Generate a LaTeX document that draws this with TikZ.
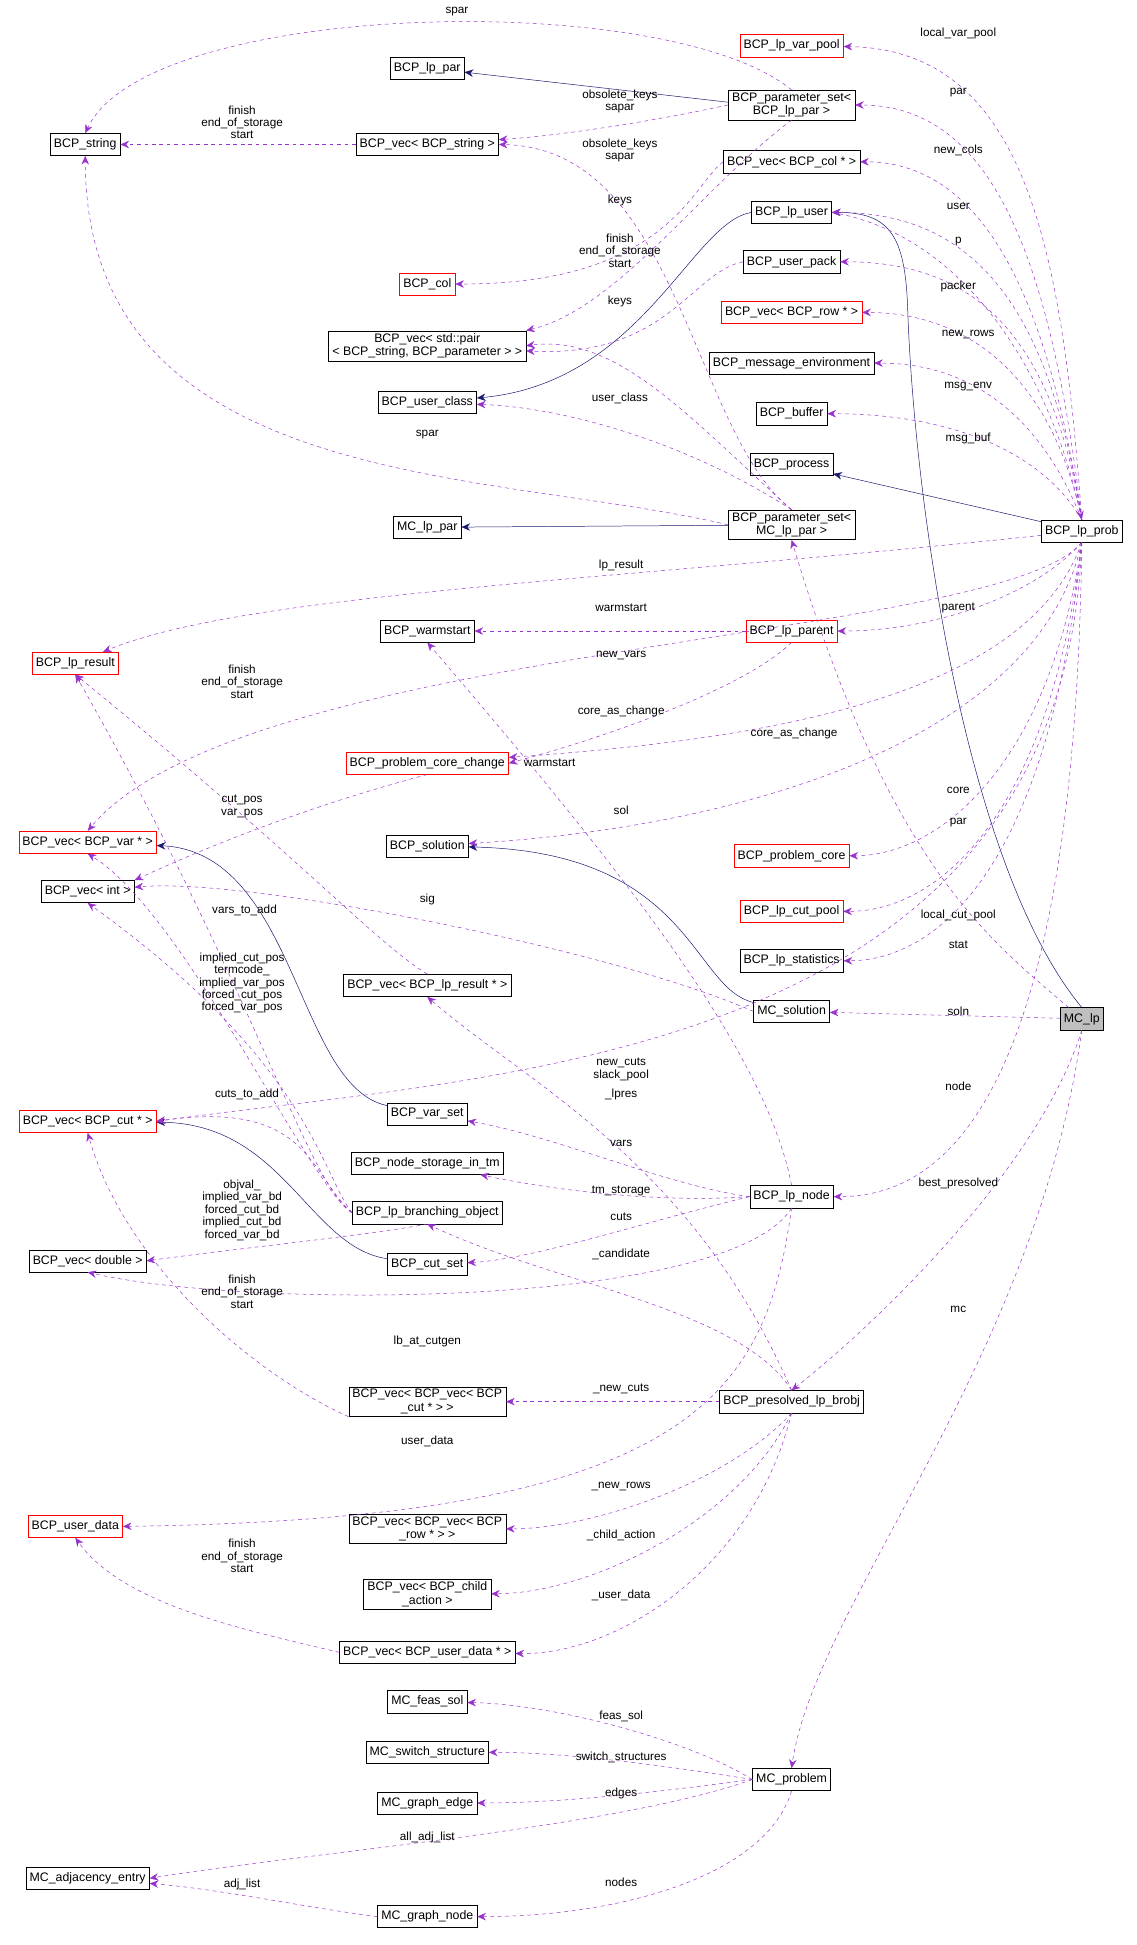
\documentclass[tikz,border=0pt]{standalone}
\usepackage{fontspec}
\setmainfont{Liberation Sans}
\usetikzlibrary{arrows.meta}
\begin{document}
\begin{tikzpicture}[x=1pt,y=-1pt,
 cls/.style={draw=black,fill=white,font=\fontsize{10}{11}\selectfont,inner xsep=3pt,inner ysep=2pt,minimum height=18pt,align=center},
 rcls/.style={cls,draw=red},
 dep/.style={draw={rgb,255:red,153;green,50;blue,204},dashed,-{Stealth[length=7pt,width=6pt]}},
 inh/.style={draw={rgb,255:red,25;green,25;blue,112},-{Stealth[length=7pt,width=6pt]}},
 lb/.style={font=\fontsize{9.5}{10}\selectfont,align=center,inner sep=0pt}]
\useasboundingbox (0,0) rectangle (920,1575);
\node[cls] (str) at (69,117) {BCP\_string};
\node[cls] (lppar) at (346,55) {BCP\_lp\_par};
\node[cls] (vstr) at (346,117) {BCP\_vec< BCP\_string >};
\node[rcls] (col) at (346,230) {BCP\_col};
\node[cls] (vpair) at (346,280) {BCP\_vec< std::pair\\< BCP\_string, BCP\_parameter > >};
\node[cls] (ucls) at (346,326) {BCP\_user\_class};
\node[cls] (mcpar) at (346,427) {MC\_lp\_par};
\node[cls] (warm) at (346,511) {BCP\_warmstart};
\node[rcls] (lpres) at (61,537) {BCP\_lp\_result};
\node[rcls] (pcc) at (346,618) {BCP\_problem\_core\_change};
\node[rcls] (vvar) at (71,682) {BCP\_vec< BCP\_var * >};
\node[cls] (sol) at (346,685) {BCP\_solution};
\node[cls] (vint) at (71,722) {BCP\_vec< int >};
\node[cls] (vlpres) at (346,798) {BCP\_vec< BCP\_lp\_result * >};
\node[rcls] (vcut) at (71,908) {BCP\_vec< BCP\_cut * >};
\node[cls] (varset) at (346,902) {BCP\_var\_set};
\node[cls] (nst) at (346,942) {BCP\_node\_storage\_in\_tm};
\node[cls] (bobj) at (346,982) {BCP\_lp\_branching\_object};
\node[cls] (vdbl) at (71,1021) {BCP\_vec< double >};
\node[cls] (cutset) at (346,1024) {BCP\_cut\_set};
\node[cls] (vvcut) at (346,1135) {BCP\_vec< BCP\_vec< BCP\\\_cut * > >};
\node[rcls] (udata) at (61,1236) {BCP\_user\_data};
\node[cls] (vvrow) at (346,1238) {BCP\_vec< BCP\_vec< BCP\\\_row * > >};
\node[cls] (vchild) at (346,1291) {BCP\_vec< BCP\_child\\\_action >};
\node[cls] (vudata) at (346,1338) {BCP\_vec< BCP\_user\_data * >};
\node[cls] (feas) at (346,1378) {MC\_feas\_sol};
\node[cls] (sw) at (346,1419) {MC\_switch\_structure};
\node[cls] (gedge) at (346,1460) {MC\_graph\_edge};
\node[cls] (adj) at (71,1521) {MC\_adjacency\_entry};
\node[cls] (gnode) at (346,1552) {MC\_graph\_node};
\node[rcls] (vpool) at (641,37) {BCP\_lp\_var\_pool};
\node[cls] (psbcp) at (641,85) {BCP\_parameter\_set<\\BCP\_lp\_par >};
\node[cls] (vcol) at (641,131) {BCP\_vec< BCP\_col * >};
\node[cls] (lpuser) at (641,172) {BCP\_lp\_user};
\node[cls] (upack) at (641,212) {BCP\_user\_pack};
\node[rcls] (vrow) at (641,253) {BCP\_vec< BCP\_row * >};
\node[cls] (menv) at (641,294) {BCP\_message\_environment};
\node[cls] (buf) at (641,335) {BCP\_buffer};
\node[cls] (proc) at (641,376) {BCP\_process};
\node[cls] (psmc) at (641,425) {BCP\_parameter\_set<\\MC\_lp\_par >};
\node[rcls] (parent) at (641,511) {BCP\_lp\_parent};
\node[rcls] (pcore) at (641,693) {BCP\_problem\_core};
\node[rcls] (cpool) at (641,738) {BCP\_lp\_cut\_pool};
\node[cls] (stat) at (641,778) {BCP\_lp\_statistics};
\node[cls] (mcsol) at (641,819) {MC\_solution};
\node[cls] (node) at (641,969) {BCP\_lp\_node};
\node[cls] (pres) at (641,1135) {BCP\_presolved\_lp\_brobj};
\node[cls] (mcprob) at (641,1441) {MC\_problem};
\node[cls] (prob) at (876,430) {BCP\_lp\_prob};
\node[cls,fill=black!25] (mclp) at (876,825) {MC\_lp};
% inheritance
\draw[inh] (psbcp.north west) ++(0,10) -- (lppar);
\draw[inh] (psmc) -- (mcpar);
\draw[inh] (prob) -- (proc);
\draw[inh] (mclp.north) .. controls (780,700) and (740,400) .. (735,250) .. controls (733,190) and (720,172) .. (lpuser);
\draw[inh] (lpuser.west) .. controls (560,180) and (520,310) .. (ucls);
\draw[inh] (mcsol) .. controls (560,800) and (560,690) .. (sol);
\draw[inh] (varset) .. controls (240,880) and (240,690) .. (vvar);
\draw[inh] (cutset) .. controls (250,1010) and (230,910) .. (vcut);
% from BCP_lp_prob
\draw[dep] (prob.north) .. controls (860,200) and (830,40) .. (vpool);
\draw[dep] (prob.north) .. controls (850,200) and (800,85) .. (psbcp);
\draw[dep] (prob.north) .. controls (850,250) and (800,131) .. (vcol);
\draw[dep] (prob.north) .. controls (850,250) and (790,172) .. (lpuser);
\draw[dep] (prob.north) .. controls (850,260) and (780,212) .. (upack);
\draw[dep] (prob.north) .. controls (850,300) and (780,253) .. (vrow);
\draw[dep] (prob.north) .. controls (840,330) and (780,294) .. (menv);
\draw[dep] (prob.north) .. controls (840,360) and (760,335) .. (buf);
\draw[dep] (lpuser.east) .. controls (780,190) and (850,300) .. (prob.north);
\draw[dep] (prob) .. controls (500,470) and (200,480) .. (lpres);
\draw[dep] (prob.south) .. controls (840,480) and (760,511) .. (parent);
\draw[dep] (prob.south) .. controls (810,520) and (200,520) .. (vvar.north);
\draw[dep] (prob.south) .. controls (830,570) and (600,600) .. (pcc);
\draw[dep] (prob.south) .. controls (840,600) and (600,670) .. (sol);
\draw[dep] (prob.south) .. controls (850,620) and (760,693) .. (pcore);
\draw[dep] (prob.south) .. controls (850,660) and (760,738) .. (cpool);
\draw[dep] (prob.south) .. controls (850,700) and (760,778) .. (stat);
\draw[dep] (prob.south) .. controls (860,860) and (400,870) .. (vcut.east);
\draw[dep] (prob.south) .. controls (870,900) and (760,969) .. (node);
% MC_lp
\draw[dep] (mclp) .. controls (800,760) and (720,700) .. (psmc.south);
\draw[dep] (mclp) -- (mcsol);
\draw[dep] (mclp.south) .. controls (840,950) and (700,1080) .. (pres.north);
\draw[dep] (mclp.south) .. controls (840,1100) and (660,1300) .. (mcprob.north);
% parameter sets
\draw[dep] (psbcp.north) .. controls (540,-10) and (120,0) .. (str.north);
\draw[dep] (psbcp.west) .. controls (520,100) and (450,110) .. (vstr);
\draw[dep] (psbcp.south) .. controls (570,150) and (500,250) .. (vpair.north east);
\draw[dep] (psmc.north) .. controls (560,350) and (550,120) .. (vstr.east);
\draw[dep] (psmc.north) .. controls (560,340) and (500,270) .. (vpair.east);
\draw[dep] (psmc.west) .. controls (400,380) and (70,400) .. (str.south);
\draw[dep] (upack.west) .. controls (560,220) and (540,290) .. (vpair);
\draw[dep] (psmc.north) .. controls (560,360) and (460,330) .. (ucls);
\draw[dep] (vcol.west) .. controls (560,150) and (540,230) .. (col);
\draw[dep] (vstr) -- (str);
\draw[dep] (parent) -- (warm);
\draw[dep] (parent.south) .. controls (600,560) and (480,600) .. (pcc.east);
\draw[dep] (pcc.south) .. controls (260,650) and (180,680) .. (vint.north east);
\draw[dep] (mcsol.west) .. controls (500,770) and (200,710) .. (vint);
% lp_node
\draw[dep] (node.north) .. controls (620,850) and (500,700) .. (warm.south);
\draw[dep] (node.west) .. controls (540,960) and (450,920) .. (varset);
\draw[dep] (node.west) .. controls (520,975) and (430,960) .. (nst);
\draw[dep] (node.west) .. controls (520,990) and (430,1020) .. (cutset);
\draw[dep] (node.south) .. controls (590,1060) and (200,1060) .. (vdbl.south);
\draw[dep] (node.south) .. controls (620,1130) and (560,1230) .. (udata.east);
% branching object
\draw[dep] (bobj.west) .. controls (250,960) and (200,790) .. (lpres.south);
\draw[dep] (bobj.west) .. controls (250,960) and (150,740) .. (vvar.south);
\draw[dep] (bobj.west) .. controls (260,950) and (250,860) .. (vint.south);
\draw[dep] (bobj.west) .. controls (250,950) and (250,890) .. (vcut.east);
\draw[dep] (bobj.south) .. controls (300,1000) and (200,1010) .. (vdbl.east);
\draw[dep] (vlpres.north) .. controls (300,760) and (250,700) .. (lpres.south);
% presolved
\draw[dep] (pres.north) .. controls (600,1060) and (450,1040) .. (bobj.south);
\draw[dep] (pres.north) .. controls (560,940) and (430,880) .. (vlpres.south);
\draw[dep] (pres) -- (vvcut);
\draw[dep] (pres.south) .. controls (590,1200) and (480,1238) .. (vvrow);
\draw[dep] (pres.south) .. controls (600,1230) and (480,1290) .. (vchild);
\draw[dep] (pres.south) .. controls (610,1270) and (500,1340) .. (vudata);
\draw[dep] (vvcut.south west) .. controls (200,1110) and (100,1020) .. (vcut.south);
\draw[dep] (vudata.west) .. controls (200,1320) and (100,1300) .. (udata.south);
% MC_problem
\draw[dep] (mcprob.west) .. controls (560,1410) and (450,1380) .. (feas);
\draw[dep] (mcprob.west) .. controls (540,1430) and (460,1419) .. (sw);
\draw[dep] (mcprob.west) .. controls (540,1450) and (460,1460) .. (gedge);
\draw[dep] (mcprob.west) .. controls (500,1480) and (250,1500) .. (adj.east);
\draw[dep] (mcprob.south) .. controls (620,1520) and (500,1552) .. (gnode);
\draw[dep] (gnode.west) .. controls (250,1545) and (180,1530) .. (adj);
% labels
\node[lb] at (776,27) {local\_var\_pool};
\node[lb] at (776,75) {par};
\node[lb] at (776,122) {new\_cols};
\node[lb] at (776,167) {user};
\node[lb] at (776,196) {p};
\node[lb] at (776,232) {packer};
\node[lb] at (784,271) {new\_rows};
\node[lb] at (784,313) {msg\_env};
\node[lb] at (784,355) {msg\_buf};
\node[lb] at (503,458) {lp\_result};
\node[lb] at (776,492) {parent};
\node[lb] at (503,531) {new\_vars};
\node[lb] at (643,594) {core\_as\_change};
\node[lb] at (503,656) {sol};
\node[lb] at (776,640) {core};
\node[lb] at (776,666) {par};
\node[lb] at (776,741) {local\_cut\_pool};
\node[lb] at (776,765) {stat};
\node[lb] at (776,819) {soln};
\node[lb] at (503,866) {new\_cuts\\slack\_pool};
\node[lb] at (776,880) {node};
\node[lb] at (776,958) {best\_presolved};
\node[lb] at (776,1060) {mc};
\node[lb] at (370,9) {spar};
\node[lb] at (502,82) {obsolete\_keys\\sapar};
\node[lb] at (502,122) {obsolete\_keys\\sapar};
\node[lb] at (502,162) {keys};
\node[lb] at (502,203) {finish\\end\_of\_storage\\start};
\node[lb] at (502,244) {keys};
\node[lb] at (502,323) {user\_class};
\node[lb] at (196,99) {finish\\end\_of\_storage\\start};
\node[lb] at (346,352) {spar};
\node[lb] at (503,492) {warmstart};
\node[lb] at (503,576) {core\_as\_change};
\node[lb] at (445,618) {warmstart};
\node[lb] at (196,552) {finish\\end\_of\_storage\\start};
\node[lb] at (196,653) {cut\_pos\\var\_pos};
\node[lb] at (346,728) {sig};
\node[lb] at (198,737) {vars\_to\_add};
\node[lb] at (196,796) {implied\_cut\_pos\\termcode\_\\implied\_var\_pos\\forced\_cut\_pos\\forced\_var\_pos};
\node[lb] at (200,886) {cuts\_to\_add};
\node[lb] at (196,980) {objval\_\\implied\_var\_bd\\forced\_cut\_bd\\implied\_cut\_bd\\forced\_var\_bd};
\node[lb] at (196,1046) {finish\\end\_of\_storage\\start};
\node[lb] at (346,1086) {lb\_at\_cutgen};
\node[lb] at (503,886) {\_lpres};
\node[lb] at (503,926) {vars};
\node[lb] at (503,964) {tm\_storage};
\node[lb] at (503,985) {cuts};
\node[lb] at (503,1016) {\_candidate};
\node[lb] at (503,1125) {\_new\_cuts};
\node[lb] at (346,1167) {user\_data};
\node[lb] at (503,1204) {\_new\_rows};
\node[lb] at (503,1243) {\_child\_action};
\node[lb] at (503,1292) {\_user\_data};
\node[lb] at (196,1260) {finish\\end\_of\_storage\\start};
\node[lb] at (503,1390) {feas\_sol};
\node[lb] at (503,1423) {switch\_structures};
\node[lb] at (503,1452) {edges};
\node[lb] at (346,1488) {all\_adj\_list};
\node[lb] at (503,1524) {nodes};
\node[lb] at (196,1526) {adj\_list};
\end{tikzpicture}
\end{document}
